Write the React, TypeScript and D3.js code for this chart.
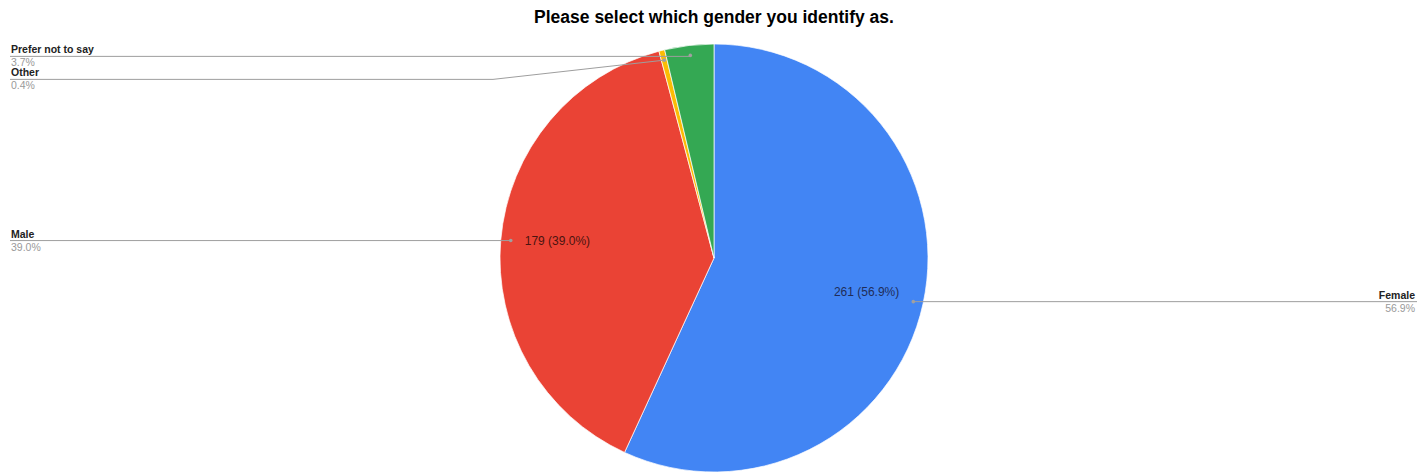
import React from "react";
import * as d3 from "d3";

const categories = ["Female", "Male", "Other", "Prefer not to say"];
const counts = [261, 179, 2, 17];
const colors = ["#4285F4", "#EA4335", "#FBBC04", "#34A853"];
const title = "Please select which gender you identify as.";

const W = 1421;
const H = 474;
const CX = 714;
const CY = 258;
const R = 214;
const DOT_R = 204;
const FONT = "'Liberation Sans', Arial, sans-serif";

export default function App() {
  const total = d3.sum(counts);
  const pie = d3.pie<number>().sort(null).value((d) => d);
  const arcs = pie(counts);
  const arcGen = d3.arc<d3.PieArcDatum<number>>().innerRadius(0).outerRadius(R);
  const fmt = (v: number) => ((v / total) * 100).toFixed(1) + "%";

  const pts = arcs.map((a) => {
    const mid = (a.startAngle + a.endAngle) / 2;
    return {
      x: CX + DOT_R * Math.sin(mid),
      y: CY - DOT_R * Math.cos(mid),
      mid,
    };
  });
  const labelY: Record<string, number> = {};
  labelY["Female"] = pts[0].y;
  labelY["Male"] = pts[1].y;
  labelY["Prefer not to say"] = pts[3].y + 1;
  labelY["Other"] = pts[3].y + 24;

  return (
    <svg width={W} height={H} style={{ position: "absolute", left: 0, top: 0, background: "#fff" }} fontFamily={FONT}>
      <rect width={W} height={H} fill="#fff" />
      <text x={CX} y={23} textAnchor="middle" fontSize={17.5} fontWeight="bold" fill="#000">
        {title}
      </text>
      <g>
        {arcs.map((a, i) => (
          <path
            key={categories[i]}
            d={arcGen(a) || ""}
            transform={`translate(${CX},${CY})`}
            fill={colors[i]}
            stroke="#fff"
            strokeWidth={0.7}
          />
        ))}
      </g>
      <text x={pts[0].x - 14} y={pts[0].y - 6} textAnchor="end" fontSize={12} fill="#1f2d5a">
        {`${counts[0]} (${fmt(counts[0])})`}
      </text>
      <text x={pts[1].x + 14} y={pts[1].y + 4} textAnchor="start" fontSize={12} fill="#4a1410">
        {`${counts[1]} (${fmt(counts[1])})`}
      </text>
      {categories.map((c, i) => {
        const p = pts[i];
        const right = Math.sin(p.mid) > 0;
        const ly = labelY[c];
        const endX = right ? 1417 : 10;
        const d =
          c === "Other"
            ? `M${p.x},${p.y}L493,${ly}L${endX},${ly}`
            : `M${p.x},${p.y}L${p.x},${ly}L${endX},${ly}`;
        const tx = right ? 1415 : 11;
        const anchor = right ? "end" : "start";
        return (
          <g key={c}>
            <path d={d} fill="none" stroke="#9e9e9e" strokeWidth={1} />
            <circle cx={p.x} cy={p.y} r={1.8} fill="#a0a0a0" />
            <text x={tx} y={ly - 3} textAnchor={anchor} fontSize={10.5} fontWeight="bold" fill="#222">
              {c}
            </text>
            <text x={tx} y={ly + 10} textAnchor={anchor} fontSize={10.5} fill="#9a9a9a">
              {fmt(counts[i])}
            </text>
          </g>
        );
      })}
    </svg>
  );
}
